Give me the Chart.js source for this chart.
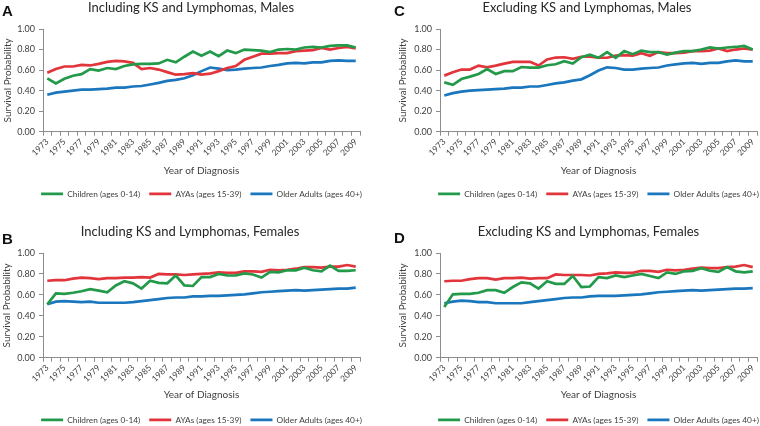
<!DOCTYPE html>
<html><head><meta charset="utf-8">
<script src="https://cdn.jsdelivr.net/npm/chart.js@4/dist/chart.umd.min.js"></script>
<style>
html,body{margin:0;padding:0;background:#fff;width:760px;height:426px;overflow:hidden;position:relative}
.p{position:absolute}
.lt{position:absolute;font:bold 15px "Liberation Sans",Arial,sans-serif;color:#111;line-height:15px}
</style></head><body>
<div class="p" style="left:0;top:0"><canvas id="cA" width="382" height="208"></canvas></div>
<div class="p" style="left:394px;top:0"><canvas id="cC" width="386" height="208"></canvas></div>
<div class="p" style="left:0;top:210px"><canvas id="cB" width="380" height="224"></canvas></div>
<div class="p" style="left:394px;top:210px"><canvas id="cD" width="390" height="224"></canvas></div>
<div class="lt" style="left:2px;top:3px">A</div>
<div class="lt" style="left:394px;top:3px">C</div>
<div class="lt" style="left:2px;top:231px">B</div>
<div class="lt" style="left:394px;top:230px">D</div>
<script>
const years = ['1973','1974','1975','1976','1977','1978','1979','1980','1981','1982','1983','1984','1985','1986','1987','1988','1989','1990','1991','1992','1993','1994','1995','1996','1997','1998','1999','2000','2001','2002','2003','2004','2005','2006','2007','2008','2009'];
const seriesNames = ['Children (ages 0-14)','AYAs (ages 15-39)','Older Adults (ages 40+)'];
const yTicks = [0, 0.2, 0.4, 0.6, 0.8, 1.0];

// Panel A: Including KS and Lymphomas, Males
const aChildren = [0.52,0.47,0.515,0.545,0.56,0.61,0.595,0.62,0.61,0.64,0.655,0.66,0.66,0.665,0.70,0.675,0.73,0.78,0.74,0.78,0.735,0.79,0.765,0.80,0.795,0.79,0.775,0.80,0.805,0.80,0.82,0.825,0.82,0.835,0.84,0.84,0.82];
const aAYAs     = [0.575,0.61,0.635,0.635,0.65,0.645,0.66,0.68,0.69,0.685,0.67,0.61,0.62,0.605,0.58,0.555,0.56,0.57,0.555,0.565,0.59,0.62,0.64,0.70,0.73,0.76,0.76,0.765,0.765,0.785,0.79,0.795,0.815,0.80,0.815,0.825,0.81];
const aOlder    = [0.36,0.38,0.39,0.40,0.41,0.41,0.415,0.42,0.43,0.43,0.44,0.445,0.46,0.475,0.495,0.505,0.52,0.55,0.59,0.625,0.615,0.60,0.605,0.615,0.62,0.625,0.64,0.65,0.665,0.67,0.665,0.675,0.675,0.69,0.695,0.69,0.69];

// Panel C: Excluding KS and Lymphomas, Males
const cChildren = [0.48,0.457,0.513,0.536,0.562,0.61,0.562,0.59,0.59,0.63,0.624,0.624,0.647,0.657,0.686,0.663,0.725,0.75,0.72,0.775,0.72,0.785,0.755,0.79,0.775,0.775,0.75,0.77,0.785,0.785,0.80,0.82,0.81,0.82,0.825,0.835,0.80];
const cAYAs     = [0.546,0.578,0.605,0.605,0.644,0.627,0.644,0.663,0.68,0.68,0.68,0.644,0.703,0.722,0.725,0.71,0.73,0.73,0.72,0.72,0.74,0.745,0.74,0.765,0.74,0.775,0.765,0.765,0.77,0.785,0.785,0.79,0.81,0.785,0.80,0.81,0.80];
const cOlder    = [0.353,0.376,0.39,0.40,0.405,0.41,0.415,0.42,0.43,0.43,0.44,0.44,0.455,0.47,0.48,0.497,0.51,0.55,0.595,0.627,0.62,0.605,0.605,0.615,0.62,0.625,0.645,0.655,0.665,0.67,0.66,0.67,0.67,0.685,0.695,0.685,0.685];

// Panel B: Including KS and Lymphomas, Females
const bChildren = [0.51,0.615,0.61,0.62,0.635,0.655,0.64,0.625,0.69,0.73,0.71,0.66,0.735,0.715,0.71,0.785,0.69,0.685,0.77,0.77,0.80,0.785,0.785,0.805,0.795,0.765,0.82,0.815,0.835,0.835,0.86,0.835,0.825,0.88,0.83,0.83,0.835];
const bAYAs     = [0.735,0.74,0.74,0.755,0.765,0.76,0.75,0.76,0.76,0.765,0.765,0.77,0.765,0.80,0.795,0.795,0.79,0.795,0.80,0.805,0.815,0.81,0.81,0.825,0.825,0.82,0.84,0.835,0.84,0.85,0.865,0.865,0.86,0.87,0.87,0.885,0.87];
const bOlder    = [0.51,0.535,0.54,0.535,0.53,0.535,0.525,0.525,0.525,0.525,0.53,0.54,0.55,0.56,0.57,0.575,0.575,0.585,0.585,0.59,0.59,0.595,0.60,0.605,0.615,0.625,0.63,0.635,0.64,0.645,0.64,0.645,0.65,0.655,0.66,0.66,0.67];

// Panel D: Excluding KS and Lymphomas, Females
const dChildren = [0.485,0.605,0.61,0.61,0.62,0.645,0.645,0.62,0.675,0.72,0.71,0.66,0.73,0.705,0.705,0.78,0.675,0.68,0.77,0.76,0.785,0.77,0.785,0.80,0.78,0.76,0.815,0.80,0.825,0.83,0.855,0.83,0.82,0.865,0.825,0.815,0.825];
const dAYAs     = [0.73,0.735,0.735,0.75,0.76,0.76,0.745,0.76,0.76,0.765,0.755,0.76,0.76,0.795,0.79,0.79,0.79,0.785,0.80,0.805,0.815,0.81,0.81,0.83,0.83,0.82,0.84,0.835,0.84,0.85,0.86,0.855,0.855,0.865,0.87,0.885,0.865];
const dOlder    = [0.52,0.535,0.545,0.54,0.53,0.53,0.52,0.52,0.52,0.52,0.53,0.54,0.55,0.56,0.57,0.575,0.575,0.585,0.59,0.59,0.59,0.595,0.60,0.605,0.615,0.625,0.63,0.635,0.64,0.645,0.64,0.645,0.65,0.655,0.66,0.66,0.665];

const colors = ['#23994a', '#e2353b', '#1a76bd'];
const FONT = 'Lato, "Open Sans", sans-serif';
const axisGray = '#8c8c8c';
const textGray = '#404040';

// centre the legend on the plot area and the title where the figure has it
const boxShift = {
  id: 'boxShift',
  afterLayout(chart, args, opts) {
    const ca = chart.chartArea;
    const lg = chart.legend;
    if (lg) {
      const half = (lg.right - lg.left) / 2, c = (ca.left + ca.right) / 2;
      lg.left = c - half; lg.right = c + half;
    }
    const t = chart.titleBlock;
    if (t && opts.titleCenter) {
      const half = (t.right - t.left) / 2;
      t.left = opts.titleCenter - half; t.right = opts.titleCenter + half;
    }
  }
};

function makeChart(id, title, data, g) {
  const ctx = document.getElementById(id);
  new Chart(ctx, {
    type: 'line',
    data: {
      labels: years,
      datasets: data.map((d, i) => ({
        label: seriesNames[i], data: d,
        borderColor: colors[i], backgroundColor: colors[i],
        borderWidth: 2.7, pointRadius: 0, tension: 0, fill: false
      }))
    },
    plugins: [boxShift],
    options: {
      responsive: false, animation: false,
      layout: { padding: { left: 0, right: g.padRight, top: 0, bottom: 0 } },
      plugins: {
        boxShift: { titleCenter: g.titleCenter },
        title: { display: true, text: title, color: '#262626',
          font: { family: FONT, size: 13, weight: 'normal' },
          padding: { top: g.titleTop, bottom: 13.4 } },
        legend: { position: 'bottom',
          labels: { usePointStyle: true, pointStyle: 'line', pointStyleWidth: 22,
            boxHeight: 9, padding: 9, color: textGray,
            font: { family: FONT, size: 8.3 } } },
        tooltip: { enabled: false }
      },
      scales: {
        x: {
          offset: true,
          grid: { drawOnChartArea: false, drawTicks: true, tickLength: 4, color: axisGray, offset: true },
          border: { color: axisGray },
          ticks: { autoSkip: false, minRotation: 45, maxRotation: 45, padding: 1,
            color: textGray, font: { family: FONT, size: 8.5 },
            callback: (v, i) => (i % 2 === 0 ? years[i] : '') },
          title: { display: true, text: 'Year of Diagnosis', color: textGray,
            font: { family: FONT, size: 10 }, padding: { top: 0, bottom: g.xTitlePad } },
          afterFit: (s) => { s.height = 49; }
        },
        y: {
          min: 0, max: 1,
          grid: { drawOnChartArea: false, drawTicks: true, tickLength: 4, color: axisGray },
          border: { color: axisGray },
          afterBuildTicks: (s) => { s.ticks = yTicks.map(v => ({ value: v })); },
          ticks: { padding: 4, color: textGray, font: { family: FONT, size: 9 },
            callback: (v) => Number(v).toFixed(2) },
          title: { display: true, text: 'Survival Probability', color: textGray,
            font: { family: FONT, size: 10 }, padding: { top: g.yTitlePad, bottom: 0 } },
          afterFit: (s) => { s.width = g.yWidth; }
        }
      }
    }
  });
}

makeChart('cA', 'Including KS and Lymphomas, Males', [aChildren, aAYAs, aOlder],
  { padRight: 22, titleTop: 0, xTitlePad: 4, yTitlePad: 2, yWidth: 43, titleCenter: 191 });
makeChart('cC', 'Excluding KS and Lymphomas, Males', [cChildren, cAYAs, cOlder],
  { padRight: 23, titleTop: 0, xTitlePad: 4, yTitlePad: 3, yWidth: 46, titleCenter: 193 });
makeChart('cB', 'Including KS and Lymphomas, Females', [bChildren, bAYAs, bOlder],
  { padRight: 20, titleTop: 14, xTitlePad: 6, yTitlePad: 1, yWidth: 43, titleCenter: 190 });
makeChart('cD', 'Excluding KS and Lymphomas, Females', [dChildren, dAYAs, dOlder],
  { padRight: 27, titleTop: 14, xTitlePad: 6, yTitlePad: 3, yWidth: 46, titleCenter: 194.5 });
</script>
</body></html>
